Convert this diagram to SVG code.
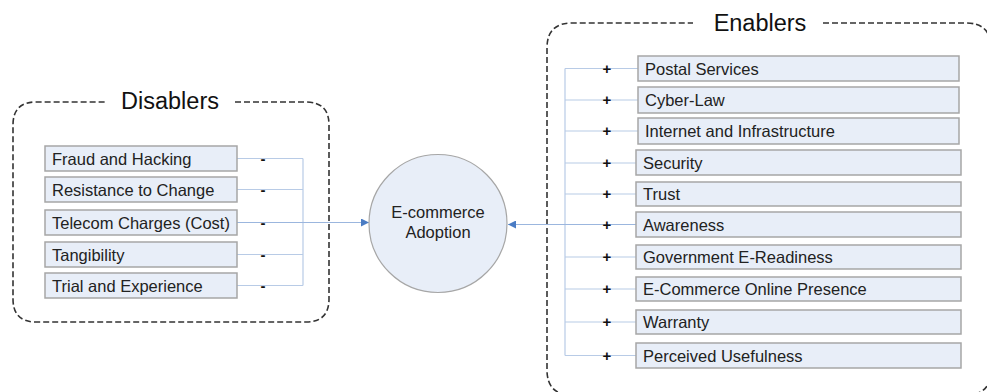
<svg xmlns="http://www.w3.org/2000/svg" width="987" height="392" viewBox="0 0 987 392">
<defs>
<style>
.panel{fill:none;stroke:#333;stroke-width:1.6;stroke-dasharray:6 3}
.box{fill:#e8eef8;stroke:#a6a6a6;stroke-width:1.5}
.lbl{font-family:"Liberation Sans",Arial,sans-serif;font-size:16.5px;fill:#222}
.title{font-family:"Liberation Sans",Arial,sans-serif;font-size:23.5px;fill:#111}
.sign{font-family:"Liberation Sans",Arial,sans-serif;font-size:15px;fill:#111;text-anchor:middle;font-weight:bold}
.conn{fill:none;stroke:#b8cbe6;stroke-width:1.2}
.arrowline{fill:none;stroke:#9bb6de;stroke-width:1.2}
</style>
<marker id="arr" viewBox="0 0 10 10" refX="10" refY="5" markerWidth="8" markerHeight="8" orient="auto" markerUnits="userSpaceOnUse">
<path d="M0,0 L10,5 L0,10 z" fill="#4a7cc4"/>
</marker>
</defs>
<rect width="987" height="392" fill="#fff"/>

<g id="disablers-panel">
<path class="panel" d="M235,102 L306,102 Q329,102 329,125 L329,299 Q329,322 306,322 L36,322 Q13,322 13,299 L13,125 Q13,102 36,102 L105,102"/>
<text class="title" x="170" y="109" text-anchor="middle">Disablers</text>
</g>

<g id="enablers-panel">
<path class="panel" d="M823,23 L966,23 Q991,23 991,48 L991,370 Q991,395 966,395 L572,395 Q547,395 547,370 L547,48 Q547,23 572,23 L693,23"/>
<text class="title" x="760" y="31" text-anchor="middle">Enablers</text>
</g>

<g id="connectors">
<path class="conn" d="M237,158.5 H303 M237,189.5 H303 M237,254.5 H303 M237,285.5 H303 M303,158.5 V285.5"/>
<path class="arrowline" d="M237,222.5 H369" marker-end="url(#arr)"/>
<path class="conn" d="M565,68.5 V355.5 M565,68.5 H638 M565,100 H638 M565,131 H638 M565,163 H636 M565,194 H636 M565,257 H636 M565,289 H636 M565,322 H636 M565,355.5 H636"/>
<path class="arrowline" d="M636,224.5 H508" marker-end="url(#arr)"/>
<g id="signs">
<text class="sign" x="263" y="163.5">-</text>
<text class="sign" x="263" y="194.5">-</text>
<text class="sign" x="263" y="227.5">-</text>
<text class="sign" x="263" y="259.5">-</text>
<text class="sign" x="263" y="290.5">-</text>
<text class="sign" x="607" y="73.5">+</text>
<text class="sign" x="607" y="105">+</text>
<text class="sign" x="607" y="136">+</text>
<text class="sign" x="607" y="168">+</text>
<text class="sign" x="607" y="199">+</text>
<text class="sign" x="607" y="229.5">+</text>
<text class="sign" x="607" y="262">+</text>
<text class="sign" x="607" y="294">+</text>
<text class="sign" x="607" y="327">+</text>
<text class="sign" x="607" y="360.5">+</text>
</g>
</g>

<g id="adoption">
<circle cx="438" cy="223.5" r="69" fill="#e8eef8" stroke="#a6a6a6" stroke-width="1.2"/>
<text class="lbl" x="438" y="218" text-anchor="middle">E-commerce</text>
<text class="lbl" x="438" y="238" text-anchor="middle">Adoption</text>
</g>

<g id="d1"><rect class="box" x="45" y="146" width="192" height="25"/><text class="lbl" x="52" y="164.5">Fraud and Hacking</text></g>
<g id="d2"><rect class="box" x="45" y="177" width="192" height="25"/><text class="lbl" x="52" y="195.5">Resistance to Change</text></g>
<g id="d3"><rect class="box" x="45" y="210" width="192" height="25"/><text class="lbl" x="52" y="228.5">Telecom Charges (Cost)</text></g>
<g id="d4"><rect class="box" x="45" y="242" width="192" height="25"/><text class="lbl" x="52" y="260.5">Tangibility</text></g>
<g id="d5"><rect class="box" x="45" y="273" width="192" height="25"/><text class="lbl" x="52" y="291.5">Trial and Experience</text></g>

<g id="e1"><rect class="box" x="638" y="56" width="321" height="25"/><text class="lbl" x="645" y="74.5">Postal Services</text></g>
<g id="e2"><rect class="box" x="638" y="87" width="321" height="26"/><text class="lbl" x="645" y="106">Cyber-Law</text></g>
<g id="e3"><rect class="box" x="638" y="118" width="321" height="26"/><text class="lbl" x="645" y="137">Internet and Infrastructure</text></g>
<g id="e4"><rect class="box" x="636" y="150" width="325" height="25"/><text class="lbl" x="643" y="169">Security</text></g>
<g id="e5"><rect class="box" x="636" y="182" width="325" height="24"/><text class="lbl" x="643" y="200">Trust</text></g>
<g id="e6"><rect class="box" x="636" y="212" width="325" height="25"/><text class="lbl" x="643" y="230.5">Awareness</text></g>
<g id="e7"><rect class="box" x="636" y="245" width="325" height="24"/><text class="lbl" x="643" y="263">Government E-Readiness</text></g>
<g id="e8"><rect class="box" x="636" y="277" width="325" height="24"/><text class="lbl" x="643" y="295">E-Commerce Online Presence</text></g>
<g id="e9"><rect class="box" x="636" y="310" width="325" height="24"/><text class="lbl" x="643" y="328">Warranty</text></g>
<g id="e10"><rect class="box" x="636" y="343" width="325" height="25"/><text class="lbl" x="643" y="361.5">Perceived Usefulness</text></g>
</svg>
